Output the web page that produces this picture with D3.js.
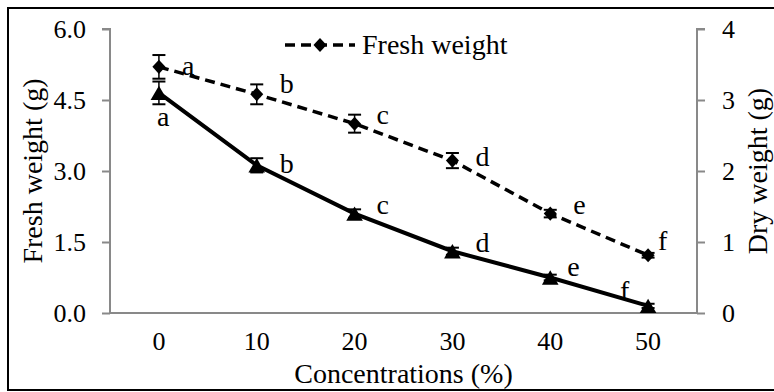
<!DOCTYPE html>
<html>
<head>
<meta charset="utf-8">
<script src="https://cdn.jsdelivr.net/npm/d3@7"></script>
<style>
  body { margin: 0; background: #fff; }
  svg text { font-family: "Liberation Serif", "DejaVu Serif", "Times New Roman", Times, serif !important; fill: #000; }
</style>
</head>
<body>
<svg id="chart" width="774" height="392"></svg>
<script>
// Data
const categories = ["0", "10", "20", "30", "40", "50"];
const freshWeight = [5.2, 4.62, 4.0, 3.22, 2.1, 1.22];
const freshError = [0.25, 0.21, 0.19, 0.16, 0.08, 0.05];
const dryWeight = [3.1, 2.08, 1.4, 0.87, 0.5, 0.1];
const dryError = [0.16, 0.1, 0.06, 0.05, 0.04, 0.03];
const freshLetters = ["a", "b", "c", "d", "e", "f"];
const dryLetters = ["a", "b", "c", "d", "e", "f"];
const leftTicks = [0, 1.5, 3.0, 4.5, 6.0];
const rightTicks = [0, 1, 2, 3, 4];

const width = 774, height = 392;
const margin = { top: 29, right: 77, bottom: 79, left: 110 };
const TICK_FONT = 26;
const FONT = 28;
const AXIS_COLOR = "#898989";

// letter offsets from marker (x from marker to text start, y to baseline)
const freshLabelOffset = [[23, 8], [23, -1], [22, 0], [23, 5], [23, 0], [10, -5]];
const dryLabelOffset = [[-2, 33], [23, 8], [22, 0], [23, 1], [17, -2], [-28, -6]];

const svg = d3.select("#chart");

// outer frame
svg.append("rect")
    .attr("x", 8).attr("y", 8)
    .attr("width", 780).attr("height", 382)
    .attr("fill", "none")
    .attr("stroke", "#000")
    .attr("stroke-width", 2);

const x = d3.scaleBand()
    .domain(categories)
    .range([margin.left, width - margin.right]);

const yLeft = d3.scaleLinear()
    .domain([0, 6])
    .range([height - margin.bottom, margin.top]);

const yRight = d3.scaleLinear()
    .domain([0, 4])
    .range([height - margin.bottom, margin.top]);

const cx = d => x(d) + x.bandwidth() / 2;

// left axis
const leftAxis = svg.append("g")
    .attr("transform", `translate(${margin.left},0)`)
    .call(d3.axisLeft(yLeft).tickValues(leftTicks).tickFormat(d3.format(".1f")).tickSize(8).tickPadding(16));

// right axis
const rightAxis = svg.append("g")
    .attr("transform", `translate(${width - margin.right},0)`)
    .call(d3.axisRight(yRight).tickValues(rightTicks).tickFormat(d3.format("d")).tickSize(8).tickPadding(17));

// bottom axis (no tick marks)
const bottomAxis = svg.append("g")
    .attr("transform", `translate(0,${height - margin.bottom})`)
    .call(d3.axisBottom(x).tickSize(0).tickPadding(21));

[leftAxis, rightAxis, bottomAxis].forEach(g => {
    g.attr("font-family", null).attr("font-size", null);
    g.select(".domain").attr("stroke", AXIS_COLOR).attr("stroke-width", 2);
    g.selectAll(".tick line").attr("stroke", AXIS_COLOR).attr("stroke-width", 2);
    g.selectAll(".tick text")
        .style("font-size", TICK_FONT + "px")
        .attr("fill", "#000");
});
leftAxis.select(".domain").attr("d", `M-8,${yLeft(6)}H0V${yLeft(0)}`);
rightAxis.select(".domain").attr("d", `M8,${yRight(4)}H0V${yRight(0)}`);
bottomAxis.select(".domain").attr("d", `M${margin.left},0H${width - margin.right}`);
bottomAxis.selectAll(".tick text").attr("dy", "0.6em");

// axis titles
svg.append("text")
    .attr("transform", `translate(42,${(yLeft(0) + yLeft(6)) / 2}) rotate(-90)`)
    .attr("text-anchor", "middle")
    .style("font-size", FONT + "px")
    .text("Fresh weight (g)");

svg.append("text")
    .attr("transform", `translate(767,${(yRight(0) + yRight(4)) / 2}) rotate(-90)`)
    .attr("text-anchor", "middle")
    .style("font-size", FONT + "px")
    .text("Dry weight (g)");

svg.append("text")
    .attr("x", (margin.left + width - margin.right) / 2)
    .attr("y", 383)
    .attr("text-anchor", "middle")
    .style("font-size", FONT + "px")
    .text("Concentrations (%)");

const fresh = categories.map((c, i) => ({ c, v: freshWeight[i], e: freshError[i], l: freshLetters[i], o: freshLabelOffset[i] }));
const dry = categories.map((c, i) => ({ c, v: dryWeight[i], e: dryError[i], l: dryLetters[i], o: dryLabelOffset[i] }));

// rotated square -> diamond about 13px across
const diamond = d3.symbol().type(d3.symbolSquare).size(85);
const triangle = d3.symbol().type(d3.symbolTriangle).size(120);

function markerTransform(px, py, symbol) {
    return symbol === diamond
        ? `translate(${px},${py}) scale(1,1.08) rotate(45)`
        : `translate(${px},${py + 2.4})`;
}

function drawSeries(data, y, dashed, symbol) {
    const g = svg.append("g");

    g.append("path")
        .datum(data)
        .attr("fill", "none")
        .attr("stroke", "#000")
        .attr("stroke-width", dashed ? 3.5 : 4)
        .attr("stroke-dasharray", dashed ? "10,6" : null)
        .attr("d", d3.line().x(d => cx(d.c)).y(d => y(d.v)));

    // error bars
    const err = g.selectAll("g.err").data(data).join("g").attr("class", "err");
    err.append("line")
        .attr("x1", d => cx(d.c)).attr("x2", d => cx(d.c))
        .attr("y1", d => y(d.v - d.e)).attr("y2", d => y(d.v + d.e))
        .attr("stroke", "#000").attr("stroke-width", 1.5);
    [-1, 1].forEach(s => {
        err.append("line")
            .attr("x1", d => cx(d.c) - 6.5).attr("x2", d => cx(d.c) + 6.5)
            .attr("y1", d => y(d.v + s * d.e)).attr("y2", d => y(d.v + s * d.e))
            .attr("stroke", "#000").attr("stroke-width", 2);
    });

    g.selectAll("path.marker")
        .data(data)
        .join("path")
        .attr("class", "marker")
        .attr("transform", d => markerTransform(cx(d.c), y(d.v), symbol))
        .attr("d", symbol)
        .attr("fill", "#000");

    g.selectAll("text.sig")
        .data(data)
        .join("text")
        .attr("class", "sig")
        .attr("x", d => cx(d.c) + d.o[0])
        .attr("y", d => y(d.v) + d.o[1])
        .style("font-size", FONT + "px")
        .text(d => d.l);
}

drawSeries(dry, yRight, false, triangle);
drawSeries(fresh, yLeft, true, diamond);

// legend
const legend = svg.append("g").attr("transform", "translate(285,45)");
legend.append("line")
    .attr("x1", 0).attr("x2", 70).attr("y1", 0).attr("y2", 0)
    .attr("stroke", "#000").attr("stroke-width", 3.5)
    .attr("stroke-dasharray", "10,6");
legend.append("path")
    .attr("transform", markerTransform(35, 0, diamond))
    .attr("d", diamond)
    .attr("fill", "#000");
legend.append("text")
    .attr("x", 77).attr("y", 9)
    .style("font-size", FONT + "px")
    .text("Fresh weight");
</script>
</body>
</html>
